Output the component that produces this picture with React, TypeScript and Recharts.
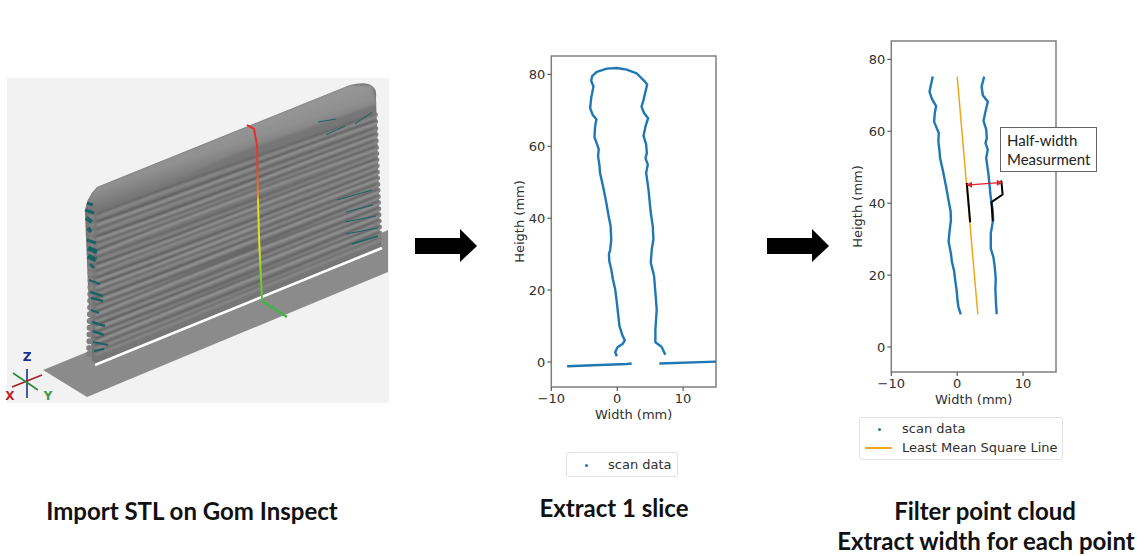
import { ComposedChart, Line, XAxis, YAxis, ReferenceArea } from "recharts";

type Pt = { x: number; y: number };
const pts = (raw: number[][]): Pt[] => raw.map(([x, y]) => ({ x, y }));

const BLUE = "#1f77b4";
const ORANGE = "#f2a71b";
const AXIS_GRAY = "#7f7f7f";
const TEXT = "#2f2f2f";
const MPL_FONT = "'DejaVu Sans', sans-serif";
const CAPTION_FONT = "Lato, 'Open Sans', sans-serif";

const xTicks = [-10, 0, 10];
const yTicks = [0, 20, 40, 60, 80];
const xDomain = [-10, 15];
const yDomain = [-6.95, 85.1];

// Extract 1 slice panel
const sliceProfile = pts([
  [-0.05, 1.6], [-0.3, 2.7], [0.05, 4.1], [0.86, 5.1], [1.16, 6], [0.76, 7.6], [0.35, 10], [0.15, 13.2],
  [-0.05, 16.5], [-0.3, 20.2], [-0.65, 23], [-0.9, 25.8], [-1.2, 28.1], [-1.25, 30], [-1.05, 31.3], [-0.9, 34.1],
  [-1, 37.8], [-1.3, 40.6], [-1.65, 44.3], [-2.15, 48.9], [-2.6, 52.6], [-2.7, 54.9], [-2.9, 57.2], [-2.8, 59.2],
  [-3.2, 61.3], [-3.45, 62.5], [-3.35, 65.5], [-3.15, 67.5], [-3.7, 68.7], [-4.1, 70.6], [-3.95, 73.4], [-3.6, 76.6],
  [-3.95, 78.2], [-3.8, 79.5], [-3.1, 80.7], [-1.55, 81.6], [-0.05, 81.75], [1.45, 81.3], [2.95, 80.3], [4.1, 78.2],
  [4.55, 77.2], [4.3, 75.2], [4, 72.9], [3.7, 71], [4.1, 69.2], [4.7, 67.8], [4.3, 65.5], [4, 62.9],
  [4.4, 60.5], [4.5, 58.1], [4.3, 56.7], [4.65, 54.9], [4.4, 52.6], [4.75, 48], [5.1, 41.5], [5.4, 37.8],
  [5.5, 34.1], [5.25, 31.3], [5.1, 27.6], [5.6, 23.9], [5.8, 19.3], [6, 14.6], [5.8, 9], [5.8, 5.5],
  [6.75, 4.2], [7.3, 2],
]);
const baseLeft = pts([[-7.6, -1.2], [1.45, -0.55], [2.2, -0.4]]);
const baseRight = pts([[6.4, -0.4], [15, 0.1]]);

// Filter point cloud panel
const filteredLeft = pts([
  [0.55, 9.1], [0.2, 11], [0.05, 13], [-0.1, 16], [-0.3, 18.6], [-0.45, 21], [-0.8, 23.7], [-0.95, 26],
  [-1.3, 29.3], [-1.2, 31.5], [-0.95, 35.3], [-1, 37.8], [-1.3, 40.6], [-1.65, 44.3], [-2.15, 48.9], [-2.6, 52.6],
  [-2.7, 54.9], [-2.85, 57], [-2.8, 59.5], [-3.2, 61.3], [-3.5, 62.6], [-3.4, 65], [-3.2, 67], [-3.85, 69.1],
  [-4.2, 71], [-4, 72.8], [-3.7, 75.2],
]);
const filteredRight = pts([
  [6, 9.1], [5.9, 12], [5.8, 15.8], [5.85, 19], [5.7, 22.3], [5.5, 25], [5.1, 27.4], [5.1, 31.6],
  [5.45, 35.3], [5.4, 38], [5.1, 41.5], [4.75, 48], [4.4, 52.6], [4.65, 54.9], [4.3, 56.7], [4.5, 58.1],
  [4.4, 60.5], [4, 62.9], [4.3, 65.5], [4.65, 68.2], [3.9, 70], [3.7, 72.4], [4.1, 75.2],
]);
const lmsLine = pts([[0, 75.2], [3.13, 9.1]]);
const blackOnFit = pts([[1.46, 45.6], [1.97, 34.7]]);
const blackOnEdge = pts([[5.4, 35], [5.2, 40.3], [6.9, 42.4], [6.7, 46.3]]);
const halfWidth = pts([[1.87, 45.1], [6.4, 45.7]]);

// wall ridges of the scanned part: [position down the wall, bow, wobble, strength]
const ridges = [
  [0.05, -3, 2, 0.6], [0.1, 2, -2, 0.9], [0.15, -2, 2, 0.6], [0.195, 3, -1, 1], [0.24, 1, 2, 0.6], [0.29, -3, -2, 0.9],
  [0.335, 2, 2, 0.5], [0.38, 3, -2, 1], [0.425, -2, 1, 0.6], [0.47, 2, 2, 0.9], [0.515, 3, -2, 1], [0.56, -1, 2, 0.6],
  [0.605, 2, -1, 1], [0.65, 3, 2, 0.7], [0.695, -2, -2, 1], [0.74, 2, 1, 0.7], [0.785, 1, -2, 1], [0.83, 3, 2, 0.7],
  [0.875, -1, -1, 1], [0.92, 2, 2, 0.7], [0.96, 1, -1, 0.6],
];
// teal bad-scan patches: x1, y1, x2, y2, stroke width
const tealFlecks = [
  [87, 203, 93, 205, 3], [85, 210, 94, 213, 3], [86, 218, 92, 222, 4], [88, 228, 91, 232, 4], [87, 240, 96, 243, 3],
  [88, 248, 97, 252, 5], [88, 256, 96, 260, 5], [90, 264, 94, 268, 3], [89, 280, 100, 284, 2], [90, 292, 103, 296, 2.4],
  [91, 298, 103, 301, 2.4], [91, 310, 99, 313, 2], [92, 322, 105, 326, 2.4], [93, 331, 104, 335, 2.4], [93, 342, 108, 345, 2],
  [94, 351, 104, 349, 2],
  [318, 122, 336, 119, 1], [326, 135, 345, 126, 1], [355, 124, 372, 112, 1], [337, 200, 372, 190, 1.2], [346, 212, 373, 205, 1],
  [345, 222, 376, 216, 1.2], [346, 234, 378, 228, 1.2], [352, 244, 378, 236, 1.5],
];

function Arrowhead(props: any) {
  const { cx, cy, index } = props;
  const dir = index === 0 ? -1 : 1;
  return <path key={index} d={`M${cx + dir * 3.5} ${cy}L${cx - dir * 2.5} ${cy - 3}L${cx - dir * 2.5} ${cy + 3}Z`} fill="#e3222b" />;
}

function Panel({ left, top, labelOffset, children }: any) {
  const tick = { fill: TEXT, fontSize: 13, fontFamily: MPL_FONT };
  return (
    <div style={{ position: "absolute", left, top }}>
      <ComposedChart width={240} height={400} margin={{ top: 16, right: 24, bottom: 8, left: 0 }}>
        <XAxis
          type="number"
          dataKey="x"
          domain={xDomain}
          ticks={xTicks}
          allowDataOverflow
          height={45}
          tickSize={4}
          tickMargin={3}
          axisLine={false}
          tickLine={{ stroke: "#444" }}
          tick={tick}
          tickFormatter={(v: number) => String(v).replace("-", "\u2212")}
          label={{ value: "Width (mm)", position: "insideBottom", offset: 13, fill: TEXT, fontSize: 13, fontFamily: MPL_FONT }}
        />
        <YAxis
          type="number"
          domain={yDomain}
          ticks={yTicks}
          allowDataOverflow
          width={51.3}
          tickSize={4}
          tickMargin={2}
          axisLine={false}
          tickLine={{ stroke: "#444" }}
          tick={tick}
          label={{ value: "Heigth (mm)", angle: -90, position: "insideLeft", offset: labelOffset, fill: TEXT, fontSize: 13, fontFamily: MPL_FONT, style: { textAnchor: "middle" } }}
        />
        <ReferenceArea x1={xDomain[0]} x2={xDomain[1]} y1={yDomain[0]} y2={yDomain[1]} fill="none" stroke={AXIS_GRAY} strokeWidth={1.5} />
        {children}
      </ComposedChart>
    </div>
  );
}

const series = (data: Pt[], stroke: string, width: number, key: string, dot: any = false) => (
  <Line key={key} data={data} dataKey="y" type="linear" stroke={stroke} strokeWidth={width} strokeLinejoin="round" dot={dot} activeDot={false} isAnimationActive={false} legendType="none" />
);

function ScanLegend({ left, top, width, height, withFit }: any) {
  const rowText: any = { position: "absolute", fontFamily: MPL_FONT, fontSize: 13, color: TEXT, lineHeight: "15px", whiteSpace: "nowrap" };
  return (
    <div style={{ position: "absolute", left, top, width, height, boxSizing: "border-box", border: "1px solid #e2e2e2", borderRadius: 3, background: "#fff" }}>
      <div style={{ position: "absolute", left: 18, top: withFit ? 10 : 11, width: 3, height: 3, borderRadius: 2, background: BLUE }} />
      <div style={{ ...rowText, left: withFit ? 42 : 41, top: withFit ? 3 : 4 }}>scan data</div>
      {withFit && <div style={{ position: "absolute", left: 5, top: 29, width: 27, height: 2, background: ORANGE }} />}
      {withFit && <div style={{ ...rowText, left: 42, top: 22 }}>Least Mean Square Line</div>}
    </div>
  );
}

function BlockArrow({ x, y }: { x: number; y: number }) {
  return (
    <polygon
      points={`${x},${y + 9} ${x + 45},${y + 9} ${x + 45},${y} ${x + 62},${y + 17} ${x + 45},${y + 33} ${x + 45},${y + 25} ${x},${y + 25}`}
      fill="#000"
    />
  );
}

function ScanIllustration() {
  const wall = "M85 214Q85 199 97 187L350 85Q366 81 372 86Q377 89 376 98L377 130L380 237L382 248L95 365L92 360L88 287Z";
  return (
    <svg width={1137} height={556} style={{ position: "absolute", left: 0, top: 0 }}>
      <defs>
        <clipPath id="wallClip"><path d={wall} /></clipPath>
        <filter id="soft"><feGaussianBlur stdDeviation="0.9" /></filter>
        <filter id="softer"><feGaussianBlur stdDeviation="0.5" /></filter>
        <linearGradient id="crown" gradientUnits="userSpaceOnUse" x1="200" y1="125" x2="215" y2="170">
          <stop offset="0" stopColor="#9c9c9c" />
          <stop offset="0.6" stopColor="#909090" />
          <stop offset="1" stopColor="#767676" />
        </linearGradient>
        <linearGradient id="sectionGrad" gradientUnits="userSpaceOnUse" x1="0" y1="125" x2="0" y2="300">
          <stop offset="0" stopColor="#e0282e" />
          <stop offset="0.25" stopColor="#e2452a" />
          <stop offset="0.41" stopColor="#e88a2a" />
          <stop offset="0.43" stopColor="#e6dc22" />
          <stop offset="0.7" stopColor="#dbe32a" />
          <stop offset="0.85" stopColor="#7fd12e" />
          <stop offset="1" stopColor="#52c234" />
        </linearGradient>
      </defs>
      <rect x={7} y={78} width={382} height={325} fill="#f2f2f2" />
      <polygon points="43,370 87,397 388,272 388,230 370,238 92,350" fill="#8b8b8b" />
      <path d={wall} fill="#767676" filter="url(#softer)" />
      {ridges.map(([f], i) => (
        <g key={i} fill="#808080">
          <circle cx={92 - 3 * f} cy={210 + 150 * f} r={3} />
          <circle cx={375 + 5 * f} cy={108 + 136 * f} r={2.5} />
        </g>
      ))}
      <g clipPath="url(#wallClip)">
        <g filter="url(#soft)">
          <path d="M85 205L97 187L350 85L372 86L377 104L240 152L110 208Z" fill="url(#crown)" />
          {ridges.map(([f, bow, wob, s], i) => {
            const lx = 97 - 2 * f;
            const ly = 207 + 151 * f;
            const rx = 376 + 4 * f;
            const ry = 107 + 136 * f;
            const x1 = lx + (rx - lx) / 3;
            const y1 = ly + (ry - ly) / 3 + bow;
            const x2 = lx + (2 * (rx - lx)) / 3;
            const y2 = ly + (2 * (ry - ly)) / 3 + wob;
            const d = `M${lx} ${ly}C${x1} ${y1} ${x2} ${y2} ${rx} ${ry}`;
            return (
              <g key={i}>
                <path d={d} fill="none" stroke="#484848" strokeWidth={1.7} strokeOpacity={s} />
                <path d={d} fill="none" stroke="#9c9c9c" strokeWidth={2.2} strokeOpacity={s} transform="translate(0,2.8)" />
              </g>
            );
          })}
        </g>
      </g>
      <g stroke="#1f6263" filter="url(#softer)">
        {tealFlecks.map(([a, b, c, d, w], i) => <line key={i} x1={a} y1={b} x2={c} y2={d} strokeWidth={w} />)}
      </g>
      <line x1={95} y1={365} x2={382} y2={248} stroke="#fff" strokeWidth={2.6} />
      <polyline points="247,125 254,129 257,145 258,198 259,237 262,300" fill="none" stroke="url(#sectionGrad)" strokeWidth={2} />
      <polyline points="262,301 287,317" fill="none" stroke="#3cb83c" strokeWidth={2.2} />
      <line x1={27} y1={398} x2={27} y2={369} stroke="#1c2f8a" strokeWidth={1.6} />
      <line x1={12} y1={387} x2={42} y2={375} stroke="#a42028" strokeWidth={1.6} />
      <line x1={13} y1={373} x2={38} y2={390} stroke="#2a8a3a" strokeWidth={1.6} />
      <text x={27} y={361} textAnchor="middle" fontFamily={MPL_FONT} fontWeight="bold" fontSize={12} fill="#1c2f8a">Z</text>
      <text x={10} y={400} textAnchor="middle" fontFamily={MPL_FONT} fontWeight="bold" fontSize={12} fill="#b8242c">X</text>
      <text x={48} y={400} textAnchor="middle" fontFamily={MPL_FONT} fontWeight="bold" fontSize={12} fill="#3a9a4a">Y</text>
      <BlockArrow x={415} y={229} />
      <BlockArrow x={767} y={229} />
    </svg>
  );
}

function Caption({ cx, y, text }: { cx: number; y: number; text: string }) {
  return (
    <div style={{ position: "absolute", left: cx - 200, width: 400, top: y, textAlign: "center", fontFamily: CAPTION_FONT, fontWeight: 700, fontSize: 24, lineHeight: "28px", color: "#111", whiteSpace: "nowrap" }}>
      {text}
    </div>
  );
}

export default function App() {
  return (
    <div style={{ position: "fixed", left: 0, top: 0, width: 1137, height: 556, background: "#fff", overflow: "hidden" }}>
      <ScanIllustration />
      <Panel left={500} top={40} labelOffset={19}>
        {series(sliceProfile, BLUE, 2.4, "profile")}
        {series(baseLeft, BLUE, 2.4, "baseL")}
        {series(baseRight, BLUE, 2.4, "baseR")}
      </Panel>
      <Panel left={839.7} top={25} labelOffset={17}>
        {series(filteredLeft, BLUE, 2.4, "left")}
        {series(filteredRight, BLUE, 2.4, "right")}
        {series(lmsLine, ORANGE, 1.5, "lms")}
        {series(blackOnFit, "#000", 2, "blackFit")}
        {series(blackOnEdge, "#000", 2, "blackEdge")}
        {series(halfWidth, "#e3222b", 1.3, "half", <Arrowhead />)}
      </Panel>
      <ScanLegend left={566} top={452} width={112} height={25} />
      <ScanLegend left={859} top={417} width={204} height={43} withFit />
      <div style={{ position: "absolute", left: 1000, top: 127, width: 97, height: 45, boxSizing: "border-box", border: "1.5px solid #666", background: "#fff", fontFamily: CAPTION_FONT, fontSize: 15, lineHeight: "19px", color: "#222", padding: "3px 0 0 6px", whiteSpace: "nowrap" }}>
        Half-width<br />Measurment
      </div>
      <Caption cx={192} y={497} text="Import STL on Gom Inspect" />
      <Caption cx={614} y={494} text="Extract 1 slice" />
      <Caption cx={985} y={497} text="Filter point cloud" />
      <Caption cx={986} y={527} text="Extract width for each point" />
    </div>
  );
}
